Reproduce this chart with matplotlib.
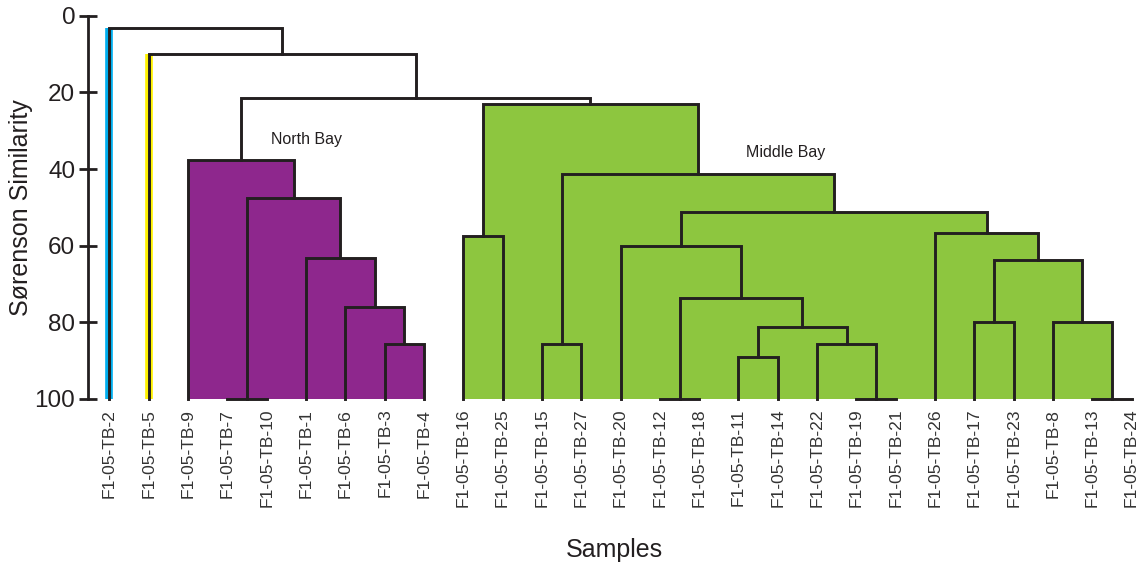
import matplotlib
matplotlib.use('Agg')
import matplotlib.pyplot as plt

plt.rcParams['font.family'] = ['Liberation Sans', 'DejaVu Sans']

# leaf order along the x axis
samples = ['F1-05-TB-2', 'F1-05-TB-5', 'F1-05-TB-9', 'F1-05-TB-7', 'F1-05-TB-10',
           'F1-05-TB-1', 'F1-05-TB-6', 'F1-05-TB-3', 'F1-05-TB-4', 'F1-05-TB-16',
           'F1-05-TB-25', 'F1-05-TB-15', 'F1-05-TB-27', 'F1-05-TB-20', 'F1-05-TB-12',
           'F1-05-TB-18', 'F1-05-TB-11', 'F1-05-TB-14', 'F1-05-TB-22', 'F1-05-TB-19',
           'F1-05-TB-21', 'F1-05-TB-26', 'F1-05-TB-17', 'F1-05-TB-23', 'F1-05-TB-8',
           'F1-05-TB-13', 'F1-05-TB-24']

# merges: ids 0..26 are leaves, merge k gets id 27+k
merge_left = [3, 7, 6, 5, 27, 2, 9, 11, 14, 16, 19, 18, 36, 35, 13, 22, 25, 24, 42, 21, 41, 34, 33, 32, 1, 0]
merge_right = [4, 8, 28, 29, 30, 31, 10, 12, 15, 17, 20, 37, 38, 39, 40, 23, 26, 43, 44, 45, 46, 47, 48, 49, 50, 51]
similarity = [100, 85.7, 75.9, 63.3, 47.5, 37.7, 57.6, 85.7, 100, 89.0, 100, 85.7, 81.2, 73.7,
              60.0, 79.8, 100, 79.8, 63.7, 56.6, 51.1, 41.3, 23.1, 21.6, 10.0, 3.3]

group_tops = [32, 49]          # North Bay, Middle Bay
group_names = ['North Bay', 'Middle Bay']
group_colors = ['#8E278D', '#8DC63F']
leaf_colors = {0: '#00AEEF', 1: '#FFF200'}

line_col = '#231F20'
n = len(samples)

# x position and height of every node
xpos = list(range(n))
height = [100.0] * n
for a, b, h in zip(merge_left, merge_right, similarity):
    xpos.append((xpos[a] + xpos[b]) / 2)
    height.append(h)


def members(node):
    if node < n:
        return [node]
    k = node - n
    return [node] + members(merge_left[k]) + members(merge_right[k])


fill_of = {}
for top, c in zip(group_tops, group_colors):
    for m in members(top):
        if m >= n:
            fill_of[m] = c

fig = plt.figure(figsize=(11.46, 5.67), dpi=100)
ax = fig.add_axes([0.0772, 0.2963, 0.9178, 0.676])

# filled cluster areas
for k in range(len(similarity)):
    node = n + k
    if node in fill_of:
        a, b = merge_left[k], merge_right[k]
        ax.fill_between([xpos[a], xpos[b]], similarity[k], 100, color=fill_of[node], lw=0)

# outlier leaves drawn in colour
for leaf, c in leaf_colors.items():
    parent = [n + k for k in range(len(similarity)) if leaf in (merge_left[k], merge_right[k])][0]
    ax.plot([xpos[leaf], xpos[leaf]], [height[parent], 100], color=c, lw=5.5, solid_capstyle='butt')

# dendrogram links
for k, h in enumerate(similarity):
    a, b = merge_left[k], merge_right[k]
    ax.plot([xpos[a], xpos[a], xpos[b], xpos[b]], [height[a], h, h, height[b]],
            color=line_col, lw=2.1, solid_joinstyle='miter', clip_on=False)

ax.text(5.0, 32.4, group_names[0], fontsize=11.5, color=line_col, ha='center', va='center')
ax.text(17.2, 35.6, group_names[1], fontsize=11.5, color=line_col, ha='center', va='center')

ax.set_xlim(-0.534, 26.22)
ax.set_ylim(100, 0)
for s in ['top', 'right', 'bottom']:
    ax.spines[s].set_visible(False)
ax.spines['left'].set_bounds(0, 100)
ax.spines['left'].set_linewidth(2)
ax.spines['left'].set_color(line_col)

ax.set_yticks([0, 20, 40, 60, 80, 100])
ax.tick_params(axis='y', direction='inout', length=13, width=2, color=line_col,
               labelsize=17.5, pad=3, labelcolor=line_col)
ax.set_xticks(range(n))
ax.set_xticklabels(samples, rotation=90, fontsize=12.6, color='#333333')
ax.tick_params(axis='x', length=0, pad=7)

ax.set_ylabel('Sørenson Similarity', fontsize=18, color=line_col, labelpad=1)
ax.set_xlabel('Samples', fontsize=18, color=line_col, labelpad=22)

fig.savefig('out.png', dpi=100)
